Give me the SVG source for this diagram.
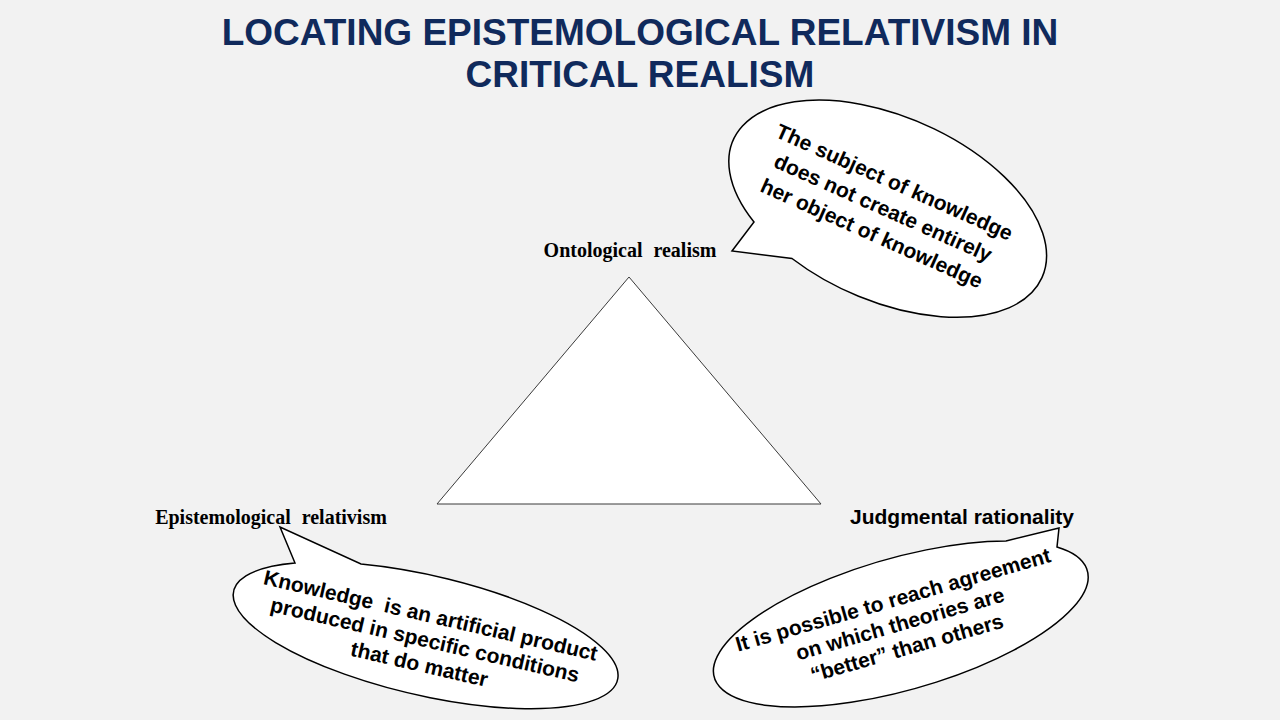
<svg xmlns="http://www.w3.org/2000/svg" width="1280" height="720" viewBox="0 0 1280 720">
<style>
.title{font-family:"Liberation Sans",Arial,sans-serif;font-weight:bold;font-size:37px;fill:#102a5c;text-anchor:middle}
.lbl-serif{font-family:"Liberation Serif","Times New Roman",serif;font-weight:bold;font-size:20px;fill:#000;text-anchor:middle;word-spacing:6px}
.lbl-sans{font-family:"Liberation Sans",Arial,sans-serif;font-weight:bold;font-size:21px;fill:#000;text-anchor:middle}
.bubble{fill:#fff;stroke:#000;stroke-width:1.5;stroke-linejoin:miter}
.btxt{font-family:"Liberation Sans",Arial,sans-serif;font-weight:bold;font-size:21px;fill:#000;text-anchor:middle;white-space:pre}
.tri{fill:#fff;stroke:#3a3a3a;stroke-width:1}
</style>
<rect width="1280" height="720" fill="#f2f2f2"/>
<g id="title">
<text class="title" x="640" y="45">LOCATING EPISTEMOLOGICAL RELATIVISM IN</text>
<text class="title" x="640" y="87">CRITICAL REALISM</text>
</g>
<g id="triangle">
<polygon class="tri" points="629,277 821,504 437,504"/>
</g>
<g id="ontological-realism">
<text class="lbl-serif" x="630" y="257">Ontological realism</text>
</g>
<g id="epistemological-relativism">
<text class="lbl-serif" x="271" y="524">Epistemological relativism</text>
</g>
<g id="judgmental-rationality">
<text class="lbl-sans" x="962" y="524">Judgmental rationality</text>
</g>
<g id="callout-top">
<path class="bubble" d="M 792,258.5 A 169 92 24 1 0 754,222 L 732,251 Z"/>
<g transform="rotate(24 883 208)">
<text class="btxt" x="883" y="187">The subject of knowledge</text>
<text class="btxt" x="883" y="215">does not create entirely</text>
<text class="btxt" x="883" y="243">her object of knowledge</text>
</g>
</g>
<g id="callout-left">
<path class="bubble" d="M 361,564 A 197 60 13 1 1 295,563 L 280,527 Z"/>
<g transform="rotate(13 425 640)">
<text class="btxt" x="425" y="622">Knowledge  is an artificial product</text>
<text class="btxt" x="425" y="647">produced in specific conditions</text>
<text class="btxt" x="425" y="672">that do matter</text>
</g>
</g>
<g id="callout-right">
<path class="bubble" d="M 1006,541 A 194 66 -16 1 0 1057,547 L 1059,528 Z"/>
<g transform="rotate(-16 900 624)">
<text class="btxt" x="900" y="606">It is possible to reach agreement</text>
<text class="btxt" x="900" y="631">on which theories are</text>
<text class="btxt" x="900" y="656">“better” than others</text>
</g>
</g>
</svg>
